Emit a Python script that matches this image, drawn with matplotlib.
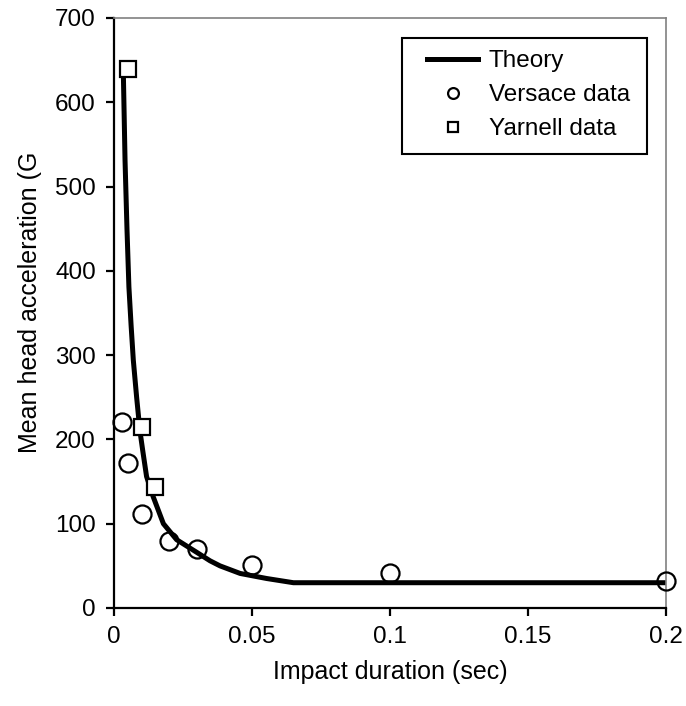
import numpy as np
import matplotlib.pyplot as plt
from matplotlib.patches import Rectangle

plt.rcParams['font.family'] = ['Liberation Sans', 'DejaVu Sans']

# theory curve
theory_t = [0.0034, 0.0040, 0.0047, 0.0054, 0.0062, 0.0070, 0.0082, 0.0094,
            0.0104, 0.0118, 0.0142, 0.0179, 0.0227, 0.030, 0.0348, 0.0384,
            0.0457, 0.0553, 0.065, 0.2]
theory_a = [632, 531, 450, 381, 335, 294, 250, 210,
            187, 156, 132, 100, 81, 66, 56, 50,
            41, 35, 30, 30]

# Versace data
versace_t = [0.003, 0.005, 0.01, 0.02, 0.03, 0.05, 0.1, 0.2]
versace_a = [221, 172, 111, 80, 70, 51, 42, 32]

# Yarnell data
yarnell_t = [0.005, 0.01, 0.015]
yarnell_a = [640, 215, 144]

W, H = 686, 706
fig = plt.figure(figsize=(W / 100, H / 100), dpi=100)
ax = fig.add_axes([114/W, 1 - 608/H, 552/W, 590/H])

ax.plot(theory_t, theory_a, color='black', lw=3.6, label='Theory', zorder=2,
        solid_joinstyle='round')
ax.plot(versace_t, versace_a, 'o', ms=13, mfc='none', mec='black', mew=1.6,
        label='Versace data', clip_on=False, zorder=3)
ax.plot(yarnell_t, yarnell_a, 's', ms=11.5, mfc='white', mec='black', mew=1.6,
        label='Yarnell data', clip_on=False, zorder=3)

ax.set_xlim(0, 0.2)
ax.set_ylim(0, 700)
ax.set_xticks([0, 0.05, 0.1, 0.15, 0.2])
ax.set_xticklabels(['0', '0.05', '0.1', '0.15', '0.2'])
ax.set_yticks(np.arange(0, 701, 100))

for s in ['top', 'right']:
    ax.spines[s].set_color('#808080')
    ax.spines[s].set_linewidth(1.2)
for s in ['left', 'bottom']:
    ax.spines[s].set_color('black')
    ax.spines[s].set_linewidth(1.6)

ax.tick_params(direction='out', length=6, width=1.6, labelsize=17.5, pad=7)

fig.text(390/W, 1 - 672/H, 'Impact duration (sec)', fontsize=18,
         ha='center', va='center')
fig.text(30/W, 1 - 152/H, 'Mean head acceleration (G', rotation=90,
         fontsize=18, ha='center', va='top')

# legend without its own frame, boxed by hand like the Excel one
leg = ax.legend(loc='upper left', bbox_to_anchor=(427/W, 1 - 50/H),
                bbox_transform=fig.transFigure,
                fontsize=17.5, markerscale=0.6, handlelength=2.1,
                labelspacing=0.5, borderpad=0, handletextpad=0.45,
                borderaxespad=0, frameon=False)
leg.set_zorder(5)
ax.add_patch(Rectangle((402/W, 1 - 154/H), 245/W, 116/H,
                       transform=fig.transFigure, clip_on=False,
                       facecolor='white', edgecolor='black', lw=1.5,
                       zorder=4))

fig.savefig('out.png', dpi=100)
